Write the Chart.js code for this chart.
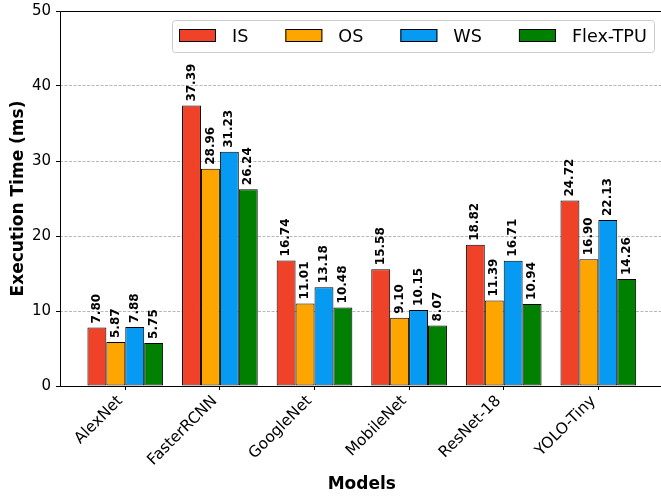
<!DOCTYPE html>
<html>
<head>
<meta charset="utf-8">
<script src="https://cdn.jsdelivr.net/npm/chart.js@4/dist/chart.umd.min.js"></script>
<style>
	html, body { margin: 0; padding: 0; background: #fff; overflow: hidden; }
	#wrap { width: 668px; height: 498px; position: relative; }
</style>
</head>
<body>
<div id="wrap"><canvas id="execChart"></canvas></div>
<script>
(function () {
	const models = ['AlexNet', 'FasterRCNN', 'GoogleNet', 'MobileNet', 'ResNet-18', 'YOLO-Tiny'];
	const seriesNames = ['IS', 'OS', 'WS', 'Flex-TPU'];
	const isTimes = [7.80, 37.39, 16.74, 15.58, 18.82, 24.72];
	const osTimes = [5.87, 28.96, 11.01, 9.10, 11.39, 16.90];
	const wsTimes = [7.88, 31.23, 13.18, 10.15, 16.71, 22.13];
	const flexTimes = [5.75, 26.24, 10.48, 8.07, 10.94, 14.26];
	const yTicks = [0, 10, 20, 30, 40, 50];

	const colors = ['#f04129', '#ffa500', '#069af3', '#008000'];
	const FONT = "'DejaVu Sans', sans-serif";

	function toPoints(values) {
		return values.map((v, i) => ({ x: i, y: v }));
	}

	const datasets = [isTimes, osTimes, wsTimes, flexTimes].map((vals, k) => ({
		label: seriesNames[k],
		data: toPoints(vals),
		backgroundColor: colors[k],
		borderColor: '#000',
		borderWidth: 1,
		borderSkipped: false,
		barPercentage: 1,
		categoryPercentage: 0.8,
	}));

	// spines (matplotlib style box; right side falls off the page)
	const framePlugin = {
		id: 'frame',
		afterDraw(chart) {
			const { ctx, chartArea: a } = chart;
			ctx.save();
			ctx.strokeStyle = '#000';
			ctx.lineWidth = 1;
			ctx.beginPath();
			ctx.moveTo(Math.round(a.left) + 0.5, a.bottom);
			ctx.lineTo(Math.round(a.left) + 0.5, Math.round(a.top) + 0.5);
			ctx.lineTo(a.right, Math.round(a.top) + 0.5);
			ctx.moveTo(a.left, Math.round(a.bottom) + 0.5);
			ctx.lineTo(a.right, Math.round(a.bottom) + 0.5);
			ctx.stroke();
			ctx.restore();
		},
	};

	// rotated value labels above each bar
	const valueLabels = {
		id: 'valueLabels',
		afterDatasetsDraw(chart) {
			const ctx = chart.ctx;
			ctx.save();
			ctx.font = 'bold 12px ' + FONT;
			ctx.fillStyle = '#000';
			ctx.textAlign = 'left';
			ctx.textBaseline = 'middle';
			chart.data.datasets.forEach((ds, k) => {
				chart.getDatasetMeta(k).data.forEach((bar, i) => {
					ctx.save();
					ctx.translate(bar.x, bar.y - 4);
					ctx.rotate(-Math.PI / 2);
					ctx.fillText(ds.data[i].y.toFixed(2), 0, 0);
					ctx.restore();
				});
			});
			ctx.restore();
		},
	};

	// legend inside the axes, upper right
	const innerLegend = {
		id: 'innerLegend',
		afterDraw(chart) {
			const ctx = chart.ctx;
			const fs = 17.6;
			ctx.save();
			ctx.font = fs + 'px ' + FONT;
			const boxL = 172, boxT = 20, boxR = 654, boxB = 52;
			ctx.fillStyle = 'rgba(255,255,255,0.8)';
			ctx.strokeStyle = '#cccccc';
			ctx.lineWidth = 1;
			ctx.beginPath();
			ctx.roundRect(boxL + 0.5, boxT + 0.5, boxR - boxL, boxB - boxT, 3);
			ctx.fill();
			ctx.stroke();
			const cy = (boxT + boxB) / 2;
			let x = 179;
			chart.data.datasets.forEach(ds => {
				ctx.fillStyle = ds.backgroundColor;
				ctx.fillRect(x, cy - 7, 37, 13);
				ctx.strokeStyle = '#000';
				ctx.strokeRect(x + 0.5, cy - 6.5, 36, 12);
				ctx.fillStyle = '#000';
				ctx.textAlign = 'left';
				ctx.textBaseline = 'middle';
				ctx.fillText(ds.label, x + 53, cy + 1);
				x += 53 + ctx.measureText(ds.label).width + 37;
			});
			ctx.restore();
		},
	};

	const config = {
		type: 'bar',
		data: { datasets: datasets },
		options: {
			responsive: true,
			maintainAspectRatio: false,
			animation: false,
			devicePixelRatio: 1,
			layout: { padding: { top: 11, right: 4.4, left: 0, bottom: 0 } },
			plugins: {
				legend: { display: false },
				tooltip: { enabled: false },
			},
			scales: {
				x: {
					type: 'linear',
					min: -0.69,
					max: 5.69,
					offset: false,
					afterFit: s => {
						s.height = 112;
						s.paddingLeft = 0;
						s.paddingRight = 0;
					},
					afterBuildTicks: s => { s.ticks = models.map((m, i) => ({ value: i })); },
					grid: {
						offset: false,
						drawOnChartArea: false,
						drawTicks: true,
						tickLength: 4,
						tickColor: '#000',
					},
					border: { display: false },
					ticks: {
						autoSkip: false,
						minRotation: 45,
						maxRotation: 45,
						padding: 2,
						labelOffset: -5,
						color: '#000',
						font: { family: FONT, size: 15.5 },
						callback: v => models[v],
					},
					title: {
						display: true,
						text: 'Models',
						color: '#000',
						font: { family: FONT, size: 17, weight: 'bold' },
						padding: { top: 0, bottom: 3 },
					},
				},
				y: {
					min: 0,
					max: 50,
					afterFit: s => {
						s.width = 60;
						s.paddingTop = 0;
						s.paddingBottom = 0;
					},
					afterBuildTicks: s => { s.ticks = yTicks.map(v => ({ value: v })); },
					grid: {
						color: '#b8b8b8',
						lineWidth: 1,
						drawTicks: true,
						tickLength: 4,
						tickColor: '#000',
						tickBorderDash: [],
					},
					border: { display: false, dash: [3, 1.5] },
					ticks: {
						padding: 5,
						color: '#000',
						font: { family: FONT, size: 15 },
					},
					title: {
						display: true,
						text: 'Execution Time (ms)',
						color: '#000',
						font: { family: FONT, size: 17, weight: 'bold' },
						padding: { top: 8, bottom: 0 },
					},
				},
			},
		},
		plugins: [valueLabels, framePlugin, innerLegend],
	};

	new Chart(document.getElementById('execChart'), config);
})();
</script>
</body>
</html>
